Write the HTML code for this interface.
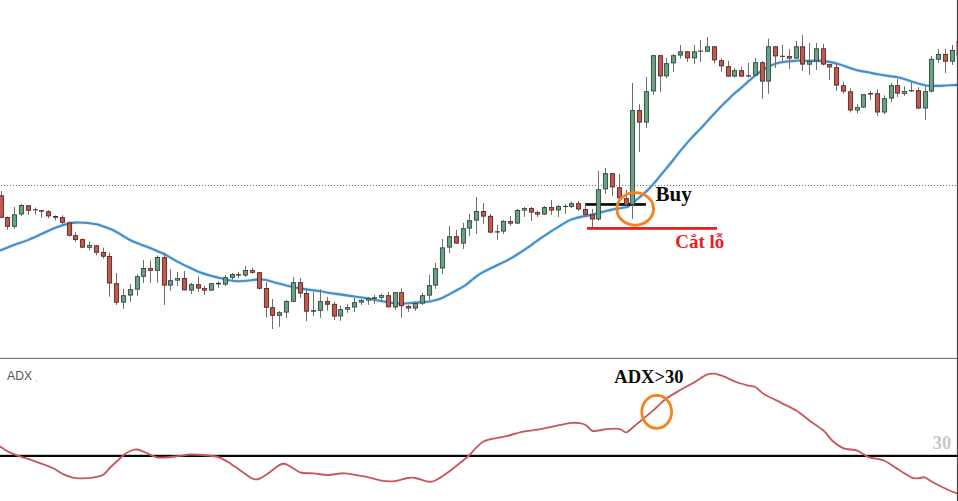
<!DOCTYPE html>
<html><head><meta charset="utf-8">
<style>
html,body{margin:0;padding:0;background:#fff;}
body{width:958px;height:501px;overflow:hidden;position:relative;font-family:"Liberation Sans",sans-serif;}
svg{position:absolute;left:0;top:0;display:block;}
text{font-family:"Liberation Serif",serif;font-weight:bold;}
.sans{font-family:"Liberation Sans",sans-serif;font-weight:normal;}
</style></head><body>
<svg width="958" height="501" viewBox="0 0 958 501">
<rect x="0" y="0" width="958" height="501" fill="#ffffff"/>
<!-- dotted price line -->
<line x1="1" x2="956" y1="185.5" y2="185.5" stroke="#5f7975" stroke-width="1.1" stroke-dasharray="1.1 1.9"/>
<!-- moving average -->
<path d="M-2,251 C-1.43,250.82 -1.27,250.90 1.4,249.9 C4.07,248.90 9.58,246.63 14,245 C18.42,243.37 23.23,241.97 27.9,240.1 C32.57,238.23 37.33,235.90 42,233.8 C46.67,231.70 51.25,229.25 55.9,227.5 C60.55,225.75 66.55,224.12 69.9,223.3 C73.25,222.48 73.68,222.70 76,222.6 C78.32,222.50 81.47,222.60 83.8,222.7 C86.13,222.80 87.67,222.88 90,223.2 C92.33,223.52 95.30,223.97 97.8,224.6 C100.30,225.23 102.67,226.18 105,227 C107.33,227.82 109.30,228.33 111.8,229.5 C114.30,230.67 116.97,232.25 120,234 C123.03,235.75 126.67,238.30 130,240 C133.33,241.70 136.67,242.87 140,244.2 C143.33,245.53 146.02,246.37 150,248 C153.98,249.63 160.23,252.25 163.9,254 C167.57,255.75 169.33,257.02 172,258.5 C174.67,259.98 176.90,261.35 179.9,262.9 C182.90,264.45 186.68,266.23 190,267.8 C193.32,269.37 196.47,271.00 199.8,272.3 C203.13,273.60 206.67,274.67 210,275.6 C213.33,276.53 216.57,277.13 219.8,277.9 C223.03,278.67 226.37,279.65 229.4,280.2 C232.43,280.75 235.07,281.10 238,281.2 C240.93,281.30 244.00,281.07 247,280.8 C250.00,280.53 253.00,279.77 256,279.6 C259.00,279.43 262.02,279.35 265,279.8 C267.98,280.25 270.90,281.50 273.9,282.3 C276.90,283.10 280.00,283.85 283,284.6 C286.00,285.35 288.90,286.13 291.9,286.8 C294.90,287.47 298.02,288.08 301,288.6 C303.98,289.12 306.53,289.47 309.8,289.9 C313.07,290.33 317.23,290.68 320.6,291.2 C323.97,291.72 326.77,292.47 330,293 C333.23,293.53 336.67,293.92 340,294.4 C343.33,294.88 346.67,295.42 350,295.9 C353.33,296.38 356.67,296.80 360,297.3 C363.33,297.80 367.00,298.38 370,298.9 C373.00,299.42 375.35,299.90 378,300.4 C380.65,300.90 383.40,301.47 385.9,301.9 C388.40,302.33 390.65,302.73 393,303 C395.35,303.27 397.50,303.47 400,303.5 C402.50,303.53 405.37,303.35 408,303.2 C410.63,303.05 413.30,302.77 415.8,302.6 C418.30,302.43 420.67,302.38 423,302.2 C425.33,302.02 427.33,301.93 429.8,301.5 C432.27,301.07 435.43,300.35 437.8,299.6 C440.17,298.85 441.97,297.95 444,297 C446.03,296.05 447.67,295.15 450,293.9 C452.33,292.65 455.33,291.02 458,289.5 C460.67,287.98 463.50,286.55 466,284.8 C468.50,283.05 470.67,280.83 473,279 C475.33,277.17 477.50,275.37 480,273.8 C482.50,272.23 485.35,270.93 488,269.6 C490.65,268.27 493.40,267.00 495.9,265.8 C498.40,264.60 500.67,263.55 503,262.4 C505.33,261.25 507.40,260.30 509.9,258.9 C512.40,257.50 515.35,255.67 518,254 C520.65,252.33 523.30,250.60 525.8,248.9 C528.30,247.20 530.67,245.47 533,243.8 C535.33,242.13 537.63,240.40 539.8,238.9 C541.97,237.40 544.00,236.13 546,234.8 C548.00,233.47 549.47,232.40 551.8,230.9 C554.13,229.40 557.80,227.15 560,225.8 C562.20,224.45 563.33,223.75 565,222.8 C566.67,221.85 568.33,220.83 570,220.1 C571.67,219.37 573.33,218.90 575,218.4 C576.67,217.90 577.50,217.65 580,217.1 C582.50,216.55 587.00,215.75 590,215.1 C593.00,214.45 595.35,213.88 598,213.2 C600.65,212.52 603.57,211.60 605.9,211 C608.23,210.40 610.00,210.00 612,209.6 C614.00,209.20 616.07,208.90 617.9,208.6 C619.73,208.30 621.35,208.12 623,207.8 C624.65,207.48 626.63,207.22 627.8,206.7 C628.97,206.18 629.13,205.37 630,204.7 C630.87,204.03 631.70,203.68 633,202.7 C634.30,201.72 635.97,200.35 637.8,198.8 C639.63,197.25 642.00,195.22 644,193.4 C646.00,191.58 647.80,189.97 649.8,187.9 C651.80,185.83 654.00,183.33 656,181 C658.00,178.67 659.47,176.73 661.8,173.9 C664.13,171.07 667.50,167.08 670,164 C672.50,160.92 674.52,158.25 676.8,155.4 C679.08,152.55 681.20,149.87 683.7,146.9 C686.20,143.93 689.12,140.52 691.8,137.6 C694.48,134.68 697.17,132.18 699.8,129.4 C702.43,126.62 704.27,124.50 707.6,120.9 C710.93,117.30 716.73,111.02 719.8,107.8 C722.87,104.58 723.67,103.90 726,101.6 C728.33,99.30 731.47,96.12 733.8,94 C736.13,91.88 737.30,91.25 740,88.9 C742.70,86.55 747.50,82.08 750,79.9 C752.50,77.72 753.33,77.13 755,75.8 C756.67,74.47 758.33,73.08 760,71.9 C761.67,70.72 763.33,69.70 765,68.7 C766.67,67.70 768.33,66.70 770,65.9 C771.67,65.10 773.33,64.47 775,63.9 C776.67,63.33 777.50,62.93 780,62.5 C782.50,62.07 786.67,61.63 790,61.3 C793.33,60.97 796.67,60.57 800,60.5 C803.33,60.43 806.67,60.83 810,60.9 C813.33,60.97 816.67,60.73 820,60.9 C823.33,61.07 826.67,61.30 830,61.9 C833.33,62.50 837.00,63.60 840,64.5 C843.00,65.40 845.00,66.32 848,67.3 C851.00,68.28 854.67,69.57 858,70.4 C861.33,71.23 864.67,71.65 868,72.3 C871.33,72.95 874.67,73.70 878,74.3 C881.33,74.90 884.67,75.40 888,75.9 C891.33,76.40 894.67,76.57 898,77.3 C901.33,78.03 904.67,79.27 908,80.3 C911.33,81.33 915.00,82.63 918,83.5 C921.00,84.37 923.33,85.10 926,85.5 C928.67,85.90 930.67,85.90 934,85.9 C937.33,85.90 942.00,85.67 946,85.5 C950.00,85.33 955.33,85.03 958,84.9 C960.67,84.77 961.33,84.73 962,84.7" fill="none" stroke="#b5dbf2" stroke-width="3.6" stroke-linejoin="round" stroke-linecap="round" opacity="0.55"/>
<path d="M-2,251 C-1.43,250.82 -1.27,250.90 1.4,249.9 C4.07,248.90 9.58,246.63 14,245 C18.42,243.37 23.23,241.97 27.9,240.1 C32.57,238.23 37.33,235.90 42,233.8 C46.67,231.70 51.25,229.25 55.9,227.5 C60.55,225.75 66.55,224.12 69.9,223.3 C73.25,222.48 73.68,222.70 76,222.6 C78.32,222.50 81.47,222.60 83.8,222.7 C86.13,222.80 87.67,222.88 90,223.2 C92.33,223.52 95.30,223.97 97.8,224.6 C100.30,225.23 102.67,226.18 105,227 C107.33,227.82 109.30,228.33 111.8,229.5 C114.30,230.67 116.97,232.25 120,234 C123.03,235.75 126.67,238.30 130,240 C133.33,241.70 136.67,242.87 140,244.2 C143.33,245.53 146.02,246.37 150,248 C153.98,249.63 160.23,252.25 163.9,254 C167.57,255.75 169.33,257.02 172,258.5 C174.67,259.98 176.90,261.35 179.9,262.9 C182.90,264.45 186.68,266.23 190,267.8 C193.32,269.37 196.47,271.00 199.8,272.3 C203.13,273.60 206.67,274.67 210,275.6 C213.33,276.53 216.57,277.13 219.8,277.9 C223.03,278.67 226.37,279.65 229.4,280.2 C232.43,280.75 235.07,281.10 238,281.2 C240.93,281.30 244.00,281.07 247,280.8 C250.00,280.53 253.00,279.77 256,279.6 C259.00,279.43 262.02,279.35 265,279.8 C267.98,280.25 270.90,281.50 273.9,282.3 C276.90,283.10 280.00,283.85 283,284.6 C286.00,285.35 288.90,286.13 291.9,286.8 C294.90,287.47 298.02,288.08 301,288.6 C303.98,289.12 306.53,289.47 309.8,289.9 C313.07,290.33 317.23,290.68 320.6,291.2 C323.97,291.72 326.77,292.47 330,293 C333.23,293.53 336.67,293.92 340,294.4 C343.33,294.88 346.67,295.42 350,295.9 C353.33,296.38 356.67,296.80 360,297.3 C363.33,297.80 367.00,298.38 370,298.9 C373.00,299.42 375.35,299.90 378,300.4 C380.65,300.90 383.40,301.47 385.9,301.9 C388.40,302.33 390.65,302.73 393,303 C395.35,303.27 397.50,303.47 400,303.5 C402.50,303.53 405.37,303.35 408,303.2 C410.63,303.05 413.30,302.77 415.8,302.6 C418.30,302.43 420.67,302.38 423,302.2 C425.33,302.02 427.33,301.93 429.8,301.5 C432.27,301.07 435.43,300.35 437.8,299.6 C440.17,298.85 441.97,297.95 444,297 C446.03,296.05 447.67,295.15 450,293.9 C452.33,292.65 455.33,291.02 458,289.5 C460.67,287.98 463.50,286.55 466,284.8 C468.50,283.05 470.67,280.83 473,279 C475.33,277.17 477.50,275.37 480,273.8 C482.50,272.23 485.35,270.93 488,269.6 C490.65,268.27 493.40,267.00 495.9,265.8 C498.40,264.60 500.67,263.55 503,262.4 C505.33,261.25 507.40,260.30 509.9,258.9 C512.40,257.50 515.35,255.67 518,254 C520.65,252.33 523.30,250.60 525.8,248.9 C528.30,247.20 530.67,245.47 533,243.8 C535.33,242.13 537.63,240.40 539.8,238.9 C541.97,237.40 544.00,236.13 546,234.8 C548.00,233.47 549.47,232.40 551.8,230.9 C554.13,229.40 557.80,227.15 560,225.8 C562.20,224.45 563.33,223.75 565,222.8 C566.67,221.85 568.33,220.83 570,220.1 C571.67,219.37 573.33,218.90 575,218.4 C576.67,217.90 577.50,217.65 580,217.1 C582.50,216.55 587.00,215.75 590,215.1 C593.00,214.45 595.35,213.88 598,213.2 C600.65,212.52 603.57,211.60 605.9,211 C608.23,210.40 610.00,210.00 612,209.6 C614.00,209.20 616.07,208.90 617.9,208.6 C619.73,208.30 621.35,208.12 623,207.8 C624.65,207.48 626.63,207.22 627.8,206.7 C628.97,206.18 629.13,205.37 630,204.7 C630.87,204.03 631.70,203.68 633,202.7 C634.30,201.72 635.97,200.35 637.8,198.8 C639.63,197.25 642.00,195.22 644,193.4 C646.00,191.58 647.80,189.97 649.8,187.9 C651.80,185.83 654.00,183.33 656,181 C658.00,178.67 659.47,176.73 661.8,173.9 C664.13,171.07 667.50,167.08 670,164 C672.50,160.92 674.52,158.25 676.8,155.4 C679.08,152.55 681.20,149.87 683.7,146.9 C686.20,143.93 689.12,140.52 691.8,137.6 C694.48,134.68 697.17,132.18 699.8,129.4 C702.43,126.62 704.27,124.50 707.6,120.9 C710.93,117.30 716.73,111.02 719.8,107.8 C722.87,104.58 723.67,103.90 726,101.6 C728.33,99.30 731.47,96.12 733.8,94 C736.13,91.88 737.30,91.25 740,88.9 C742.70,86.55 747.50,82.08 750,79.9 C752.50,77.72 753.33,77.13 755,75.8 C756.67,74.47 758.33,73.08 760,71.9 C761.67,70.72 763.33,69.70 765,68.7 C766.67,67.70 768.33,66.70 770,65.9 C771.67,65.10 773.33,64.47 775,63.9 C776.67,63.33 777.50,62.93 780,62.5 C782.50,62.07 786.67,61.63 790,61.3 C793.33,60.97 796.67,60.57 800,60.5 C803.33,60.43 806.67,60.83 810,60.9 C813.33,60.97 816.67,60.73 820,60.9 C823.33,61.07 826.67,61.30 830,61.9 C833.33,62.50 837.00,63.60 840,64.5 C843.00,65.40 845.00,66.32 848,67.3 C851.00,68.28 854.67,69.57 858,70.4 C861.33,71.23 864.67,71.65 868,72.3 C871.33,72.95 874.67,73.70 878,74.3 C881.33,74.90 884.67,75.40 888,75.9 C891.33,76.40 894.67,76.57 898,77.3 C901.33,78.03 904.67,79.27 908,80.3 C911.33,81.33 915.00,82.63 918,83.5 C921.00,84.37 923.33,85.10 926,85.5 C928.67,85.90 930.67,85.90 934,85.9 C937.33,85.90 942.00,85.67 946,85.5 C950.00,85.33 955.33,85.03 958,84.9 C960.67,84.77 961.33,84.73 962,84.7" fill="none" stroke="#468ec8" stroke-width="2.1" stroke-linejoin="round" stroke-linecap="round"/>
<rect x="585.1" y="203.1" width="60.8" height="2.7" fill="#0a0a0a"/>
<!-- candles -->
<line x1="1.5" x2="1.5" y1="191.0" y2="218.0" stroke="#6e6e6e" stroke-width="1"/>
<rect x="-0.6000000000000001" y="195.8" width="4.2" height="21.5" fill="#be5b50" stroke="#5a2622" stroke-width="0.9"/>
<line x1="7.5" x2="7.5" y1="216.5" y2="229.7" stroke="#6e6e6e" stroke-width="1"/>
<rect x="5.4" y="217.6" width="4.2" height="8.7" fill="#be5b50" stroke="#5a2622" stroke-width="0.9"/>
<line x1="14.5" x2="14.5" y1="207.1" y2="228.9" stroke="#6e6e6e" stroke-width="1"/>
<rect x="12.4" y="214.8" width="4.2" height="11.5" fill="#6d9f86" stroke="#274a3a" stroke-width="0.9"/>
<line x1="21.5" x2="21.5" y1="204.0" y2="216.3" stroke="#6e6e6e" stroke-width="1"/>
<rect x="19.4" y="205.5" width="4.2" height="8.5" fill="#6d9f86" stroke="#274a3a" stroke-width="0.9"/>
<line x1="28.5" x2="28.5" y1="205.0" y2="215.0" stroke="#6e6e6e" stroke-width="1"/>
<rect x="26.4" y="205.8" width="4.2" height="4.5" fill="#be5b50" stroke="#5a2622" stroke-width="0.9"/>
<line x1="35.5" x2="35.5" y1="207.4" y2="214.4" stroke="#6e6e6e" stroke-width="1"/>
<rect x="33.0" y="209.3" width="5" height="1.0" fill="#3b2a2a"/>
<line x1="41.5" x2="41.5" y1="210.0" y2="217.7" stroke="#6e6e6e" stroke-width="1"/>
<rect x="39.0" y="210.2" width="5" height="1.4" fill="#3b2a2a"/>
<line x1="48.5" x2="48.5" y1="210.2" y2="218.3" stroke="#6e6e6e" stroke-width="1"/>
<rect x="46.4" y="211.7" width="4.2" height="4.2" fill="#be5b50" stroke="#5a2622" stroke-width="0.9"/>
<line x1="55.5" x2="55.5" y1="215.5" y2="220.5" stroke="#6e6e6e" stroke-width="1"/>
<rect x="53.0" y="216.0" width="5" height="1.7" fill="#3b2a2a"/>
<line x1="62.5" x2="62.5" y1="215.2" y2="224.7" stroke="#6e6e6e" stroke-width="1"/>
<rect x="60.4" y="217.6" width="4.2" height="4.7" fill="#be5b50" stroke="#5a2622" stroke-width="0.9"/>
<line x1="69.5" x2="69.5" y1="221.4" y2="236.7" stroke="#6e6e6e" stroke-width="1"/>
<rect x="67.4" y="222.9" width="4.2" height="12.3" fill="#be5b50" stroke="#5a2622" stroke-width="0.9"/>
<line x1="75.5" x2="75.5" y1="232.2" y2="242.0" stroke="#6e6e6e" stroke-width="1"/>
<rect x="73.4" y="235.7" width="4.2" height="3.7" fill="#be5b50" stroke="#5a2622" stroke-width="0.9"/>
<line x1="82.5" x2="82.5" y1="238.5" y2="248.2" stroke="#6e6e6e" stroke-width="1"/>
<rect x="80.4" y="239.6" width="4.2" height="7.6" fill="#be5b50" stroke="#5a2622" stroke-width="0.9"/>
<line x1="89.5" x2="89.5" y1="241.5" y2="250.4" stroke="#6e6e6e" stroke-width="1"/>
<rect x="87.3" y="245.4" width="4.4" height="2.2" fill="#6d9f86" stroke="#274a3a" stroke-width="0.75"/>
<line x1="96.5" x2="96.5" y1="245.0" y2="255.4" stroke="#6e6e6e" stroke-width="1"/>
<rect x="94.4" y="245.8" width="4.2" height="6.4" fill="#be5b50" stroke="#5a2622" stroke-width="0.9"/>
<line x1="103.5" x2="103.5" y1="247.6" y2="258.5" stroke="#6e6e6e" stroke-width="1"/>
<rect x="101.4" y="252.5" width="4.2" height="3.7" fill="#be5b50" stroke="#5a2622" stroke-width="0.9"/>
<line x1="109.5" x2="109.5" y1="252.6" y2="296.8" stroke="#6e6e6e" stroke-width="1"/>
<rect x="107.4" y="256.4" width="4.2" height="26.6" fill="#be5b50" stroke="#5a2622" stroke-width="0.9"/>
<line x1="116.5" x2="116.5" y1="273.0" y2="304.9" stroke="#6e6e6e" stroke-width="1"/>
<rect x="114.4" y="283.7" width="4.2" height="18.5" fill="#be5b50" stroke="#5a2622" stroke-width="0.9"/>
<line x1="123.5" x2="123.5" y1="288.9" y2="308.8" stroke="#6e6e6e" stroke-width="1"/>
<rect x="121.4" y="295.7" width="4.2" height="6.4" fill="#6d9f86" stroke="#274a3a" stroke-width="0.9"/>
<line x1="130.5" x2="130.5" y1="283.9" y2="301.9" stroke="#6e6e6e" stroke-width="1"/>
<rect x="128.4" y="289.7" width="4.2" height="5.4" fill="#6d9f86" stroke="#274a3a" stroke-width="0.9"/>
<line x1="137.5" x2="137.5" y1="274.3" y2="295.9" stroke="#6e6e6e" stroke-width="1"/>
<rect x="135.4" y="276.7" width="4.2" height="12.4" fill="#6d9f86" stroke="#274a3a" stroke-width="0.9"/>
<line x1="143.5" x2="143.5" y1="259.9" y2="282.9" stroke="#6e6e6e" stroke-width="1"/>
<rect x="141.4" y="268.5" width="4.2" height="7.8" fill="#6d9f86" stroke="#274a3a" stroke-width="0.9"/>
<line x1="150.5" x2="150.5" y1="260.5" y2="282.9" stroke="#6e6e6e" stroke-width="1"/>
<rect x="148.3" y="268.4" width="4.4" height="2.0" fill="#be5b50" stroke="#5a2622" stroke-width="0.75"/>
<line x1="157.5" x2="157.5" y1="255.5" y2="282.9" stroke="#6e6e6e" stroke-width="1"/>
<rect x="155.4" y="257.5" width="4.2" height="12.8" fill="#6d9f86" stroke="#274a3a" stroke-width="0.9"/>
<line x1="164.5" x2="164.5" y1="252.6" y2="304.9" stroke="#6e6e6e" stroke-width="1"/>
<rect x="162.4" y="257.7" width="4.2" height="27.4" fill="#be5b50" stroke="#5a2622" stroke-width="0.9"/>
<line x1="170.5" x2="170.5" y1="268.9" y2="290.9" stroke="#6e6e6e" stroke-width="1"/>
<rect x="168.4" y="280.7" width="4.2" height="4.4" fill="#6d9f86" stroke="#274a3a" stroke-width="0.9"/>
<line x1="177.5" x2="177.5" y1="271.9" y2="285.9" stroke="#6e6e6e" stroke-width="1"/>
<rect x="175.3" y="278.6" width="4.4" height="1.6" fill="#6d9f86" stroke="#274a3a" stroke-width="0.75"/>
<line x1="184.5" x2="184.5" y1="270.9" y2="290.5" stroke="#6e6e6e" stroke-width="1"/>
<rect x="182.4" y="278.5" width="4.2" height="11.4" fill="#be5b50" stroke="#5a2622" stroke-width="0.9"/>
<line x1="191.5" x2="191.5" y1="282.9" y2="293.9" stroke="#6e6e6e" stroke-width="1"/>
<rect x="189.4" y="284.7" width="4.2" height="5.4" fill="#6d9f86" stroke="#274a3a" stroke-width="0.9"/>
<line x1="198.5" x2="198.5" y1="276.3" y2="291.9" stroke="#6e6e6e" stroke-width="1"/>
<rect x="196.4" y="284.7" width="4.2" height="3.4" fill="#be5b50" stroke="#5a2622" stroke-width="0.9"/>
<line x1="204.5" x2="204.5" y1="285.9" y2="294.9" stroke="#6e6e6e" stroke-width="1"/>
<rect x="202.3" y="288.6" width="4.4" height="1.6" fill="#be5b50" stroke="#5a2622" stroke-width="0.75"/>
<line x1="211.5" x2="211.5" y1="283.0" y2="291.0" stroke="#6e6e6e" stroke-width="1"/>
<rect x="209.4" y="283.7" width="4.2" height="6.4" fill="#6d9f86" stroke="#274a3a" stroke-width="0.9"/>
<line x1="218.5" x2="218.5" y1="281.5" y2="287.9" stroke="#6e6e6e" stroke-width="1"/>
<rect x="216.0" y="282.9" width="5" height="1.4" fill="#3b2a2a"/>
<line x1="225.5" x2="225.5" y1="275.0" y2="285.9" stroke="#6e6e6e" stroke-width="1"/>
<rect x="223.4" y="277.7" width="4.2" height="6.4" fill="#6d9f86" stroke="#274a3a" stroke-width="0.9"/>
<line x1="232.5" x2="232.5" y1="273.0" y2="279.6" stroke="#6e6e6e" stroke-width="1"/>
<rect x="230.4" y="274.6" width="4.2" height="2.8" fill="#6d9f86" stroke="#274a3a" stroke-width="0.9"/>
<line x1="238.5" x2="238.5" y1="271.9" y2="277.8" stroke="#6e6e6e" stroke-width="1"/>
<rect x="236.0" y="274.2" width="5" height="1.3" fill="#3b2a2a"/>
<line x1="245.5" x2="245.5" y1="265.8" y2="276.9" stroke="#6e6e6e" stroke-width="1"/>
<rect x="243.4" y="270.5" width="4.2" height="4.6" fill="#6d9f86" stroke="#274a3a" stroke-width="0.9"/>
<line x1="252.5" x2="252.5" y1="268.0" y2="273.7" stroke="#6e6e6e" stroke-width="1"/>
<rect x="250.3" y="270.6" width="4.4" height="1.9" fill="#be5b50" stroke="#5a2622" stroke-width="0.75"/>
<line x1="259.5" x2="259.5" y1="272.0" y2="289.5" stroke="#6e6e6e" stroke-width="1"/>
<rect x="257.4" y="272.7" width="4.2" height="15.5" fill="#be5b50" stroke="#5a2622" stroke-width="0.9"/>
<line x1="266.5" x2="266.5" y1="282.3" y2="317.4" stroke="#6e6e6e" stroke-width="1"/>
<rect x="264.4" y="288.5" width="4.2" height="18.8" fill="#be5b50" stroke="#5a2622" stroke-width="0.9"/>
<line x1="272.5" x2="272.5" y1="298.9" y2="329.0" stroke="#6e6e6e" stroke-width="1"/>
<rect x="270.4" y="307.7" width="4.2" height="7.6" fill="#be5b50" stroke="#5a2622" stroke-width="0.9"/>
<line x1="279.5" x2="279.5" y1="311.1" y2="326.9" stroke="#6e6e6e" stroke-width="1"/>
<rect x="277.4" y="312.7" width="4.2" height="2.6" fill="#6d9f86" stroke="#274a3a" stroke-width="0.9"/>
<line x1="286.5" x2="286.5" y1="299.9" y2="317.9" stroke="#6e6e6e" stroke-width="1"/>
<rect x="284.4" y="301.6" width="4.2" height="10.5" fill="#6d9f86" stroke="#274a3a" stroke-width="0.9"/>
<line x1="293.5" x2="293.5" y1="276.9" y2="302.0" stroke="#6e6e6e" stroke-width="1"/>
<rect x="291.4" y="282.7" width="4.2" height="18.6" fill="#6d9f86" stroke="#274a3a" stroke-width="0.9"/>
<line x1="300.5" x2="300.5" y1="277.8" y2="297.6" stroke="#6e6e6e" stroke-width="1"/>
<rect x="298.4" y="282.7" width="4.2" height="10.4" fill="#be5b50" stroke="#5a2622" stroke-width="0.9"/>
<line x1="306.5" x2="306.5" y1="289.9" y2="321.0" stroke="#6e6e6e" stroke-width="1"/>
<rect x="304.4" y="293.5" width="4.2" height="17.7" fill="#be5b50" stroke="#5a2622" stroke-width="0.9"/>
<line x1="313.5" x2="313.5" y1="292.2" y2="316.1" stroke="#6e6e6e" stroke-width="1"/>
<rect x="311.0" y="310.2" width="5" height="1.4" fill="#3b2a2a"/>
<line x1="320.5" x2="320.5" y1="289.2" y2="317.9" stroke="#6e6e6e" stroke-width="1"/>
<rect x="318.4" y="301.6" width="4.2" height="8.7" fill="#6d9f86" stroke="#274a3a" stroke-width="0.9"/>
<line x1="327.5" x2="327.5" y1="297.1" y2="310.7" stroke="#6e6e6e" stroke-width="1"/>
<rect x="325.4" y="301.6" width="4.2" height="2.6" fill="#be5b50" stroke="#5a2622" stroke-width="0.9"/>
<line x1="334.5" x2="334.5" y1="302.2" y2="320.0" stroke="#6e6e6e" stroke-width="1"/>
<rect x="332.4" y="304.3" width="4.2" height="11.8" fill="#be5b50" stroke="#5a2622" stroke-width="0.9"/>
<line x1="340.5" x2="340.5" y1="305.4" y2="320.8" stroke="#6e6e6e" stroke-width="1"/>
<rect x="338.4" y="309.6" width="4.2" height="6.4" fill="#6d9f86" stroke="#274a3a" stroke-width="0.9"/>
<line x1="347.5" x2="347.5" y1="303.9" y2="312.8" stroke="#6e6e6e" stroke-width="1"/>
<rect x="345.3" y="307.5" width="4.4" height="1.8" fill="#6d9f86" stroke="#274a3a" stroke-width="0.75"/>
<line x1="354.5" x2="354.5" y1="297.9" y2="311.8" stroke="#6e6e6e" stroke-width="1"/>
<rect x="352.4" y="302.7" width="4.2" height="4.3" fill="#6d9f86" stroke="#274a3a" stroke-width="0.9"/>
<line x1="361.5" x2="361.5" y1="299.0" y2="304.9" stroke="#6e6e6e" stroke-width="1"/>
<rect x="359.3" y="300.4" width="4.4" height="1.8" fill="#6d9f86" stroke="#274a3a" stroke-width="0.75"/>
<line x1="368.5" x2="368.5" y1="296.9" y2="304.9" stroke="#6e6e6e" stroke-width="1"/>
<rect x="366.3" y="298.4" width="4.4" height="1.8" fill="#6d9f86" stroke="#274a3a" stroke-width="0.75"/>
<line x1="374.5" x2="374.5" y1="294.9" y2="303.9" stroke="#6e6e6e" stroke-width="1"/>
<rect x="372.0" y="297.3" width="5" height="1.4" fill="#3b2a2a"/>
<line x1="381.5" x2="381.5" y1="293.5" y2="301.5" stroke="#6e6e6e" stroke-width="1"/>
<rect x="379.3" y="295.4" width="4.4" height="2.0" fill="#6d9f86" stroke="#274a3a" stroke-width="0.75"/>
<line x1="388.5" x2="388.5" y1="291.9" y2="307.5" stroke="#6e6e6e" stroke-width="1"/>
<rect x="386.4" y="295.7" width="4.2" height="11.1" fill="#be5b50" stroke="#5a2622" stroke-width="0.9"/>
<line x1="395.5" x2="395.5" y1="292.0" y2="309.8" stroke="#6e6e6e" stroke-width="1"/>
<rect x="393.4" y="292.7" width="4.2" height="14.3" fill="#6d9f86" stroke="#274a3a" stroke-width="0.9"/>
<line x1="401.5" x2="401.5" y1="288.5" y2="317.8" stroke="#6e6e6e" stroke-width="1"/>
<rect x="399.4" y="292.7" width="4.2" height="13.1" fill="#be5b50" stroke="#5a2622" stroke-width="0.9"/>
<line x1="408.5" x2="408.5" y1="305.0" y2="311.8" stroke="#6e6e6e" stroke-width="1"/>
<rect x="406.3" y="306.3" width="4.4" height="1.8" fill="#be5b50" stroke="#5a2622" stroke-width="0.75"/>
<line x1="415.5" x2="415.5" y1="301.5" y2="310.8" stroke="#6e6e6e" stroke-width="1"/>
<rect x="413.4" y="303.5" width="4.2" height="4.5" fill="#6d9f86" stroke="#274a3a" stroke-width="0.9"/>
<line x1="422.5" x2="422.5" y1="292.9" y2="304.9" stroke="#6e6e6e" stroke-width="1"/>
<rect x="420.4" y="295.7" width="4.2" height="7.4" fill="#6d9f86" stroke="#274a3a" stroke-width="0.9"/>
<line x1="429.5" x2="429.5" y1="274.9" y2="299.9" stroke="#6e6e6e" stroke-width="1"/>
<rect x="427.4" y="285.7" width="4.2" height="9.4" fill="#6d9f86" stroke="#274a3a" stroke-width="0.9"/>
<line x1="435.5" x2="435.5" y1="262.9" y2="288.9" stroke="#6e6e6e" stroke-width="1"/>
<rect x="433.4" y="268.7" width="4.2" height="16.4" fill="#6d9f86" stroke="#274a3a" stroke-width="0.9"/>
<line x1="442.5" x2="442.5" y1="239.0" y2="273.8" stroke="#6e6e6e" stroke-width="1"/>
<rect x="440.4" y="247.9" width="4.2" height="20.1" fill="#6d9f86" stroke="#274a3a" stroke-width="0.9"/>
<line x1="449.5" x2="449.5" y1="225.9" y2="252.9" stroke="#6e6e6e" stroke-width="1"/>
<rect x="447.4" y="236.7" width="4.2" height="10.4" fill="#6d9f86" stroke="#274a3a" stroke-width="0.9"/>
<line x1="456.5" x2="456.5" y1="229.9" y2="244.0" stroke="#6e6e6e" stroke-width="1"/>
<rect x="454.4" y="236.7" width="4.2" height="6.4" fill="#be5b50" stroke="#5a2622" stroke-width="0.9"/>
<line x1="463.5" x2="463.5" y1="222.9" y2="248.9" stroke="#6e6e6e" stroke-width="1"/>
<rect x="461.4" y="228.7" width="4.2" height="14.4" fill="#6d9f86" stroke="#274a3a" stroke-width="0.9"/>
<line x1="469.5" x2="469.5" y1="213.9" y2="235.9" stroke="#6e6e6e" stroke-width="1"/>
<rect x="467.4" y="220.7" width="4.2" height="7.4" fill="#6d9f86" stroke="#274a3a" stroke-width="0.9"/>
<line x1="476.5" x2="476.5" y1="197.0" y2="233.9" stroke="#6e6e6e" stroke-width="1"/>
<rect x="474.4" y="211.5" width="4.2" height="8.6" fill="#6d9f86" stroke="#274a3a" stroke-width="0.9"/>
<line x1="483.5" x2="483.5" y1="203.0" y2="223.9" stroke="#6e6e6e" stroke-width="1"/>
<rect x="481.4" y="211.5" width="4.2" height="4.6" fill="#be5b50" stroke="#5a2622" stroke-width="0.9"/>
<line x1="490.5" x2="490.5" y1="213.9" y2="233.5" stroke="#6e6e6e" stroke-width="1"/>
<rect x="488.4" y="216.3" width="4.2" height="15.8" fill="#be5b50" stroke="#5a2622" stroke-width="0.9"/>
<line x1="497.5" x2="497.5" y1="224.9" y2="239.9" stroke="#6e6e6e" stroke-width="1"/>
<rect x="495.0" y="231.3" width="5" height="1.2" fill="#3b2a2a"/>
<line x1="503.5" x2="503.5" y1="219.9" y2="233.9" stroke="#6e6e6e" stroke-width="1"/>
<rect x="501.4" y="221.5" width="4.2" height="9.6" fill="#6d9f86" stroke="#274a3a" stroke-width="0.9"/>
<line x1="510.5" x2="510.5" y1="215.9" y2="225.9" stroke="#6e6e6e" stroke-width="1"/>
<rect x="508.3" y="221.4" width="4.4" height="1.8" fill="#be5b50" stroke="#5a2622" stroke-width="0.75"/>
<line x1="517.5" x2="517.5" y1="209.0" y2="224.0" stroke="#6e6e6e" stroke-width="1"/>
<rect x="515.4" y="210.5" width="4.2" height="12.6" fill="#6d9f86" stroke="#274a3a" stroke-width="0.9"/>
<line x1="524.5" x2="524.5" y1="207.0" y2="216.9" stroke="#6e6e6e" stroke-width="1"/>
<rect x="522.3" y="208.5" width="4.4" height="1.7" fill="#6d9f86" stroke="#274a3a" stroke-width="0.75"/>
<line x1="531.5" x2="531.5" y1="207.0" y2="220.9" stroke="#6e6e6e" stroke-width="1"/>
<rect x="529.4" y="208.6" width="4.2" height="3.5" fill="#be5b50" stroke="#5a2622" stroke-width="0.9"/>
<line x1="537.5" x2="537.5" y1="210.5" y2="216.9" stroke="#6e6e6e" stroke-width="1"/>
<rect x="535.3" y="212.4" width="4.4" height="1.8" fill="#be5b50" stroke="#5a2622" stroke-width="0.75"/>
<line x1="544.5" x2="544.5" y1="206.0" y2="215.0" stroke="#6e6e6e" stroke-width="1"/>
<rect x="542.4" y="207.6" width="4.2" height="6.5" fill="#6d9f86" stroke="#274a3a" stroke-width="0.9"/>
<line x1="551.5" x2="551.5" y1="200.0" y2="214.9" stroke="#6e6e6e" stroke-width="1"/>
<rect x="549.3" y="207.5" width="4.4" height="2.6" fill="#be5b50" stroke="#5a2622" stroke-width="0.75"/>
<line x1="558.5" x2="558.5" y1="205.0" y2="216.9" stroke="#6e6e6e" stroke-width="1"/>
<rect x="556.4" y="206.6" width="4.2" height="3.4" fill="#6d9f86" stroke="#274a3a" stroke-width="0.9"/>
<line x1="565.5" x2="565.5" y1="203.9" y2="214.0" stroke="#6e6e6e" stroke-width="1"/>
<rect x="563.0" y="205.9" width="5" height="1.0" fill="#3b2a2a"/>
<line x1="571.5" x2="571.5" y1="201.5" y2="208.0" stroke="#6e6e6e" stroke-width="1"/>
<rect x="569.4" y="203.7" width="4.2" height="2.8" fill="#6d9f86" stroke="#274a3a" stroke-width="0.9"/>
<line x1="578.5" x2="578.5" y1="200.9" y2="210.9" stroke="#6e6e6e" stroke-width="1"/>
<rect x="576.4" y="203.7" width="4.2" height="5.2" fill="#be5b50" stroke="#5a2622" stroke-width="0.9"/>
<line x1="585.5" x2="585.5" y1="204.0" y2="215.8" stroke="#6e6e6e" stroke-width="1"/>
<rect x="583.4" y="209.5" width="4.2" height="4.8" fill="#be5b50" stroke="#5a2622" stroke-width="0.9"/>
<line x1="592.5" x2="592.5" y1="208.9" y2="227.3" stroke="#6e6e6e" stroke-width="1"/>
<rect x="590.4" y="214.9" width="4.2" height="4.1" fill="#be5b50" stroke="#5a2622" stroke-width="0.9"/>
<line x1="598.5" x2="598.5" y1="170.9" y2="221.0" stroke="#6e6e6e" stroke-width="1"/>
<rect x="596.4" y="189.7" width="4.2" height="29.3" fill="#6d9f86" stroke="#274a3a" stroke-width="0.9"/>
<line x1="605.5" x2="605.5" y1="167.9" y2="193.9" stroke="#6e6e6e" stroke-width="1"/>
<rect x="603.4" y="173.7" width="4.2" height="15.2" fill="#6d9f86" stroke="#274a3a" stroke-width="0.9"/>
<line x1="612.5" x2="612.5" y1="173.0" y2="195.9" stroke="#6e6e6e" stroke-width="1"/>
<rect x="610.4" y="173.7" width="4.2" height="13.2" fill="#be5b50" stroke="#5a2622" stroke-width="0.9"/>
<line x1="619.5" x2="619.5" y1="173.9" y2="198.5" stroke="#6e6e6e" stroke-width="1"/>
<rect x="617.4" y="187.7" width="4.2" height="10.2" fill="#be5b50" stroke="#5a2622" stroke-width="0.9"/>
<line x1="626.5" x2="626.5" y1="189.9" y2="206.0" stroke="#6e6e6e" stroke-width="1"/>
<rect x="624.4" y="198.7" width="4.2" height="6.2" fill="#be5b50" stroke="#5a2622" stroke-width="0.9"/>
<line x1="632.5" x2="632.5" y1="82.9" y2="218.8" stroke="#6e6e6e" stroke-width="1"/>
<rect x="630.4" y="110.6" width="4.2" height="93.9" fill="#6d9f86" stroke="#274a3a" stroke-width="0.9"/>
<line x1="639.5" x2="639.5" y1="104.2" y2="152.0" stroke="#6e6e6e" stroke-width="1"/>
<rect x="637.4" y="110.6" width="4.2" height="11.5" fill="#be5b50" stroke="#5a2622" stroke-width="0.9"/>
<line x1="646.5" x2="646.5" y1="76.9" y2="128.0" stroke="#6e6e6e" stroke-width="1"/>
<rect x="644.4" y="91.7" width="4.2" height="30.4" fill="#6d9f86" stroke="#274a3a" stroke-width="0.9"/>
<line x1="653.5" x2="653.5" y1="55.0" y2="94.9" stroke="#6e6e6e" stroke-width="1"/>
<rect x="651.4" y="55.7" width="4.2" height="35.2" fill="#6d9f86" stroke="#274a3a" stroke-width="0.9"/>
<line x1="660.5" x2="660.5" y1="55.0" y2="91.9" stroke="#6e6e6e" stroke-width="1"/>
<rect x="658.4" y="55.7" width="4.2" height="20.2" fill="#be5b50" stroke="#5a2622" stroke-width="0.9"/>
<line x1="666.5" x2="666.5" y1="57.9" y2="78.3" stroke="#6e6e6e" stroke-width="1"/>
<rect x="664.4" y="63.7" width="4.2" height="12.2" fill="#6d9f86" stroke="#274a3a" stroke-width="0.9"/>
<line x1="673.5" x2="673.5" y1="54.0" y2="71.9" stroke="#6e6e6e" stroke-width="1"/>
<rect x="671.4" y="55.7" width="4.2" height="7.2" fill="#6d9f86" stroke="#274a3a" stroke-width="0.9"/>
<line x1="680.5" x2="680.5" y1="45.0" y2="58.5" stroke="#6e6e6e" stroke-width="1"/>
<rect x="678.4" y="51.8" width="4.2" height="3.3" fill="#6d9f86" stroke="#274a3a" stroke-width="0.9"/>
<line x1="687.5" x2="687.5" y1="51.0" y2="61.9" stroke="#6e6e6e" stroke-width="1"/>
<rect x="685.4" y="51.8" width="4.2" height="6.1" fill="#be5b50" stroke="#5a2622" stroke-width="0.9"/>
<line x1="694.5" x2="694.5" y1="45.0" y2="63.9" stroke="#6e6e6e" stroke-width="1"/>
<rect x="692.4" y="51.8" width="4.2" height="6.1" fill="#6d9f86" stroke="#274a3a" stroke-width="0.9"/>
<line x1="700.5" x2="700.5" y1="40.0" y2="61.9" stroke="#6e6e6e" stroke-width="1"/>
<rect x="698.0" y="50.6" width="5" height="1.0" fill="#3b2a2a"/>
<line x1="707.5" x2="707.5" y1="37.0" y2="52.0" stroke="#6e6e6e" stroke-width="1"/>
<rect x="705.4" y="46.8" width="4.2" height="4.4" fill="#6d9f86" stroke="#274a3a" stroke-width="0.9"/>
<line x1="714.5" x2="714.5" y1="46.0" y2="63.5" stroke="#6e6e6e" stroke-width="1"/>
<rect x="712.4" y="46.8" width="4.2" height="13.1" fill="#be5b50" stroke="#5a2622" stroke-width="0.9"/>
<line x1="721.5" x2="721.5" y1="58.3" y2="71.9" stroke="#6e6e6e" stroke-width="1"/>
<rect x="719.4" y="60.7" width="4.2" height="5.2" fill="#be5b50" stroke="#5a2622" stroke-width="0.9"/>
<line x1="728.5" x2="728.5" y1="60.9" y2="77.0" stroke="#6e6e6e" stroke-width="1"/>
<rect x="726.4" y="66.7" width="4.2" height="9.4" fill="#be5b50" stroke="#5a2622" stroke-width="0.9"/>
<line x1="734.5" x2="734.5" y1="68.0" y2="77.5" stroke="#6e6e6e" stroke-width="1"/>
<rect x="732.4" y="70.7" width="4.2" height="5.4" fill="#6d9f86" stroke="#274a3a" stroke-width="0.9"/>
<line x1="741.5" x2="741.5" y1="66.9" y2="77.0" stroke="#6e6e6e" stroke-width="1"/>
<rect x="739.4" y="70.7" width="4.2" height="5.4" fill="#be5b50" stroke="#5a2622" stroke-width="0.9"/>
<line x1="748.5" x2="748.5" y1="62.9" y2="77.5" stroke="#6e6e6e" stroke-width="1"/>
<rect x="746.0" y="75.3" width="5" height="1.2" fill="#3b2a2a"/>
<line x1="755.5" x2="755.5" y1="57.9" y2="76.0" stroke="#6e6e6e" stroke-width="1"/>
<rect x="753.4" y="62.7" width="4.2" height="12.4" fill="#6d9f86" stroke="#274a3a" stroke-width="0.9"/>
<line x1="762.5" x2="762.5" y1="61.0" y2="98.9" stroke="#6e6e6e" stroke-width="1"/>
<rect x="760.4" y="62.7" width="4.2" height="18.4" fill="#be5b50" stroke="#5a2622" stroke-width="0.9"/>
<line x1="768.5" x2="768.5" y1="38.6" y2="93.9" stroke="#6e6e6e" stroke-width="1"/>
<rect x="766.4" y="46.8" width="4.2" height="34.3" fill="#6d9f86" stroke="#274a3a" stroke-width="0.9"/>
<line x1="775.5" x2="775.5" y1="46.0" y2="67.9" stroke="#6e6e6e" stroke-width="1"/>
<rect x="773.4" y="46.8" width="4.2" height="9.1" fill="#be5b50" stroke="#5a2622" stroke-width="0.9"/>
<line x1="782.5" x2="782.5" y1="44.6" y2="62.9" stroke="#6e6e6e" stroke-width="1"/>
<rect x="780.0" y="55.8" width="5" height="1.0" fill="#3b2a2a"/>
<line x1="789.5" x2="789.5" y1="49.0" y2="68.9" stroke="#6e6e6e" stroke-width="1"/>
<rect x="787.3" y="56.4" width="4.4" height="1.8" fill="#be5b50" stroke="#5a2622" stroke-width="0.75"/>
<line x1="796.5" x2="796.5" y1="41.0" y2="59.0" stroke="#6e6e6e" stroke-width="1"/>
<rect x="794.4" y="46.8" width="4.2" height="11.3" fill="#6d9f86" stroke="#274a3a" stroke-width="0.9"/>
<line x1="802.5" x2="802.5" y1="35.0" y2="70.9" stroke="#6e6e6e" stroke-width="1"/>
<rect x="800.4" y="46.8" width="4.2" height="17.3" fill="#be5b50" stroke="#5a2622" stroke-width="0.9"/>
<line x1="809.5" x2="809.5" y1="43.0" y2="74.9" stroke="#6e6e6e" stroke-width="1"/>
<rect x="807.3" y="61.6" width="4.4" height="2.6" fill="#6d9f86" stroke="#274a3a" stroke-width="0.75"/>
<line x1="816.5" x2="816.5" y1="43.0" y2="69.9" stroke="#6e6e6e" stroke-width="1"/>
<rect x="814.4" y="48.8" width="4.2" height="12.1" fill="#6d9f86" stroke="#274a3a" stroke-width="0.9"/>
<line x1="823.5" x2="823.5" y1="44.0" y2="65.5" stroke="#6e6e6e" stroke-width="1"/>
<rect x="821.4" y="48.8" width="4.2" height="15.3" fill="#be5b50" stroke="#5a2622" stroke-width="0.9"/>
<line x1="829.5" x2="829.5" y1="64.0" y2="79.9" stroke="#6e6e6e" stroke-width="1"/>
<rect x="827.3" y="64.6" width="4.4" height="2.4" fill="#be5b50" stroke="#5a2622" stroke-width="0.75"/>
<line x1="836.5" x2="836.5" y1="63.9" y2="90.9" stroke="#6e6e6e" stroke-width="1"/>
<rect x="834.4" y="67.7" width="4.2" height="17.4" fill="#be5b50" stroke="#5a2622" stroke-width="0.9"/>
<line x1="843.5" x2="843.5" y1="82.0" y2="93.7" stroke="#6e6e6e" stroke-width="1"/>
<rect x="841.4" y="85.7" width="4.2" height="5.4" fill="#be5b50" stroke="#5a2622" stroke-width="0.9"/>
<line x1="850.5" x2="850.5" y1="88.3" y2="112.4" stroke="#6e6e6e" stroke-width="1"/>
<rect x="848.4" y="91.8" width="4.2" height="18.2" fill="#be5b50" stroke="#5a2622" stroke-width="0.9"/>
<line x1="857.5" x2="857.5" y1="104.3" y2="113.4" stroke="#6e6e6e" stroke-width="1"/>
<rect x="855.3" y="107.5" width="4.4" height="2.6" fill="#6d9f86" stroke="#274a3a" stroke-width="0.75"/>
<line x1="863.5" x2="863.5" y1="94.0" y2="108.0" stroke="#6e6e6e" stroke-width="1"/>
<rect x="861.4" y="94.7" width="4.2" height="12.3" fill="#6d9f86" stroke="#274a3a" stroke-width="0.9"/>
<line x1="870.5" x2="870.5" y1="90.9" y2="99.9" stroke="#6e6e6e" stroke-width="1"/>
<rect x="868.0" y="93.1" width="5" height="1.4" fill="#3b2a2a"/>
<line x1="877.5" x2="877.5" y1="89.3" y2="115.8" stroke="#6e6e6e" stroke-width="1"/>
<rect x="875.4" y="93.7" width="4.2" height="18.3" fill="#be5b50" stroke="#5a2622" stroke-width="0.9"/>
<line x1="884.5" x2="884.5" y1="95.3" y2="114.4" stroke="#6e6e6e" stroke-width="1"/>
<rect x="882.4" y="98.7" width="4.2" height="13.3" fill="#6d9f86" stroke="#274a3a" stroke-width="0.9"/>
<line x1="891.5" x2="891.5" y1="82.9" y2="101.9" stroke="#6e6e6e" stroke-width="1"/>
<rect x="889.4" y="85.7" width="4.2" height="12.4" fill="#6d9f86" stroke="#274a3a" stroke-width="0.9"/>
<line x1="897.5" x2="897.5" y1="78.9" y2="96.9" stroke="#6e6e6e" stroke-width="1"/>
<rect x="895.4" y="85.7" width="4.2" height="7.4" fill="#be5b50" stroke="#5a2622" stroke-width="0.9"/>
<line x1="904.5" x2="904.5" y1="86.3" y2="95.9" stroke="#6e6e6e" stroke-width="1"/>
<rect x="902.3" y="91.6" width="4.4" height="1.8" fill="#6d9f86" stroke="#274a3a" stroke-width="0.75"/>
<line x1="911.5" x2="911.5" y1="81.9" y2="91.5" stroke="#6e6e6e" stroke-width="1"/>
<rect x="909.0" y="90.1" width="5" height="1.2" fill="#3b2a2a"/>
<line x1="918.5" x2="918.5" y1="87.3" y2="109.4" stroke="#6e6e6e" stroke-width="1"/>
<rect x="916.4" y="90.7" width="4.2" height="17.3" fill="#be5b50" stroke="#5a2622" stroke-width="0.9"/>
<line x1="925.5" x2="925.5" y1="86.3" y2="119.8" stroke="#6e6e6e" stroke-width="1"/>
<rect x="923.4" y="91.7" width="4.2" height="16.3" fill="#6d9f86" stroke="#274a3a" stroke-width="0.9"/>
<line x1="931.5" x2="931.5" y1="55.9" y2="92.5" stroke="#6e6e6e" stroke-width="1"/>
<rect x="929.4" y="59.4" width="4.2" height="31.7" fill="#6d9f86" stroke="#274a3a" stroke-width="0.9"/>
<line x1="938.5" x2="938.5" y1="48.9" y2="62.9" stroke="#6e6e6e" stroke-width="1"/>
<rect x="936.4" y="54.4" width="4.2" height="4.8" fill="#6d9f86" stroke="#274a3a" stroke-width="0.9"/>
<line x1="945.5" x2="945.5" y1="48.9" y2="72.9" stroke="#6e6e6e" stroke-width="1"/>
<rect x="943.4" y="54.4" width="4.2" height="6.8" fill="#be5b50" stroke="#5a2622" stroke-width="0.9"/>
<line x1="952.5" x2="952.5" y1="45.0" y2="64.9" stroke="#6e6e6e" stroke-width="1"/>
<rect x="950.4" y="50.4" width="4.2" height="10.8" fill="#6d9f86" stroke="#274a3a" stroke-width="0.9"/>
<rect x="956.2" y="41" width="1" height="15" fill="#cf8880"/>
<!-- buy / stop lines -->
<rect x="587.0" y="227.0" width="130" height="2.8" fill="#ee1c25"/>
<ellipse cx="635.2" cy="208.9" rx="18.3" ry="16.3" fill="none" stroke="#f5821f" stroke-width="2.9"/>
<text x="655.6" y="201.4" font-size="21" fill="#0a0a0a">Buy</text>
<text x="675.2" y="247.8" font-size="19" fill="#ee1c25">Cắt lỗ</text>
<!-- ADX panel -->
<rect x="0" y="357.9" width="958" height="0.9" fill="#555"/>
<text class="sans" x="7" y="380.1" font-size="12.2" fill="#555">ADX</text>
<rect x="36" y="380.8" width="0.8" height="1" fill="#666"/>
<rect x="0" y="454.8" width="958" height="2.2" fill="#050505"/>
<path d="M-2,445 C-1.73,445.20 -1.27,445.66 0,446.5 C1.27,447.34 4.83,449.99 7.5,451.3 C10.17,452.61 16.33,454.97 20,456.3 C23.67,457.63 30.65,459.74 35,461.3 C39.35,462.86 48.92,466.33 52.6,468 C56.28,469.67 59.93,472.52 62.6,473.8 C65.27,475.08 69.92,477.00 72.6,477.6 C75.28,478.20 80.02,478.30 82.7,478.3 C85.38,478.30 90.03,478.04 92.7,477.6 C95.37,477.16 100.37,476.35 102.7,475 C105.03,473.65 108.20,469.43 110.2,467.5 C112.20,465.57 115.69,462.33 117.7,460.5 C119.71,458.67 123.46,455.13 125.3,453.8 C127.14,452.47 129.90,451.07 131.5,450.5 C133.10,449.93 135.46,449.23 137.3,449.5 C139.14,449.77 142.57,451.43 145.3,452.5 C148.03,453.57 153.79,456.97 157.8,457.5 C161.81,458.03 171.05,456.90 175.4,456.5 C179.75,456.10 186.07,454.63 190.4,454.5 C194.73,454.37 204.23,455.17 207.9,455.5 C211.57,455.83 215.22,456.13 217.9,457 C220.58,457.87 225.00,460.21 228,462 C231.00,463.79 237.17,468.20 240.4,470.4 C243.63,472.60 249.76,477.35 252.2,478.5 C254.64,479.65 256.79,479.52 258.7,479 C260.61,478.48 263.71,476.48 266.5,474.6 C269.29,472.72 276.99,466.30 279.6,464.9 C282.21,463.50 283.31,463.09 286.1,464.1 C288.89,465.11 296.85,471.27 300.5,472.5 C304.15,473.73 309.85,472.95 313.5,473.3 C317.15,473.65 323.73,475.10 327.9,475.1 C332.07,475.10 339.76,473.09 344.8,473.3 C349.84,473.51 360.82,475.73 365.7,476.7 C370.58,477.67 377.57,480.01 381.4,480.6 C385.23,481.19 390.92,481.45 394.4,481.1 C397.88,480.75 404.71,478.41 407.5,478 C410.29,477.59 412.87,477.59 415.3,478 C417.73,478.41 423.45,480.62 425.7,481.1 C427.95,481.58 430.45,481.95 432.2,481.6 C433.95,481.25 436.19,480.13 438.8,478.5 C441.41,476.87 448.32,472.01 451.8,469.4 C455.28,466.79 462.47,460.89 464.9,458.9 C467.33,456.91 468.45,456.03 470,454.5 C471.55,452.97 474.77,449.11 476.5,447.4 C478.23,445.69 481.08,442.81 483,441.7 C484.92,440.59 487.77,439.83 490.9,439.1 C494.03,438.37 502.33,437.17 506.5,436.2 C510.67,435.23 517.67,432.73 522.2,431.8 C526.73,430.87 535.98,430.00 540.5,429.2 C545.02,428.40 551.93,426.64 556.1,425.8 C560.27,424.96 568.67,423.25 571.8,422.9 C574.93,422.55 577.69,422.89 579.6,423.2 C581.51,423.51 584.35,424.16 586.1,425.2 C587.85,426.24 590.09,430.47 592.7,431 C595.31,431.53 602.58,429.52 605.7,429.2 C608.82,428.88 614.01,428.53 616.1,428.6 C618.19,428.67 620.00,429.21 621.4,429.7 C622.80,430.19 624.52,433.07 626.6,432.3 C628.68,431.53 633.52,426.75 637,423.9 C640.48,421.05 648.87,414.21 652.7,410.9 C656.53,407.59 662.22,401.78 665.7,399.1 C669.18,396.42 674.97,393.05 678.8,390.8 C682.63,388.55 690.75,384.32 694.4,382.2 C698.05,380.08 703.59,376.05 706.2,374.9 C708.81,373.75 712.16,373.57 714,373.6 C715.84,373.63 718.55,374.66 720,375.1 C721.45,375.54 722.74,375.98 724.9,376.9 C727.06,377.82 733.20,380.88 736.2,382 C739.20,383.12 744.85,384.63 747.4,385.3 C749.95,385.97 753.05,385.80 755.3,387 C757.55,388.20 760.85,392.19 764.3,394.3 C767.75,396.41 776.88,400.61 781.2,402.8 C785.52,404.99 792.94,408.34 796.7,410.7 C800.46,413.06 805.84,417.87 809.4,420.5 C812.96,423.13 820.40,427.77 823.4,430.4 C826.40,433.03 829.27,437.84 831.9,440.2 C834.53,442.56 839.73,446.70 843.1,448.1 C846.47,449.50 853.81,449.50 857.2,450.7 C860.59,451.90 864.93,455.79 868.5,457.1 C872.07,458.41 880.25,458.99 884,460.5 C887.75,462.01 892.85,466.11 896.6,468.4 C900.35,470.69 909.09,476.39 912.1,477.7 C915.11,479.01 917.51,478.24 919.2,478.2 C920.89,478.16 922.93,476.83 924.8,477.4 C926.67,477.97 930.20,480.89 933.2,482.5 C936.20,484.11 943.99,488.01 947.3,489.5 C950.61,490.99 956.04,492.97 958,493.7 C959.96,494.43 961.47,494.83 962,495" fill="none" stroke="#c8575d" stroke-width="1.85" stroke-linejoin="round"/>
<ellipse cx="656.7" cy="411.8" rx="14.9" ry="16.5" fill="none" stroke="#f5821f" stroke-width="2.8"/>
<text x="614.3" y="383.2" font-size="18.5" fill="#0a0a0a">ADX&gt;30</text>
<text x="932.8" y="448.8" font-size="18.5" fill="#c9c9c9">30</text>
<!-- right border -->
<rect x="956.9" y="0" width="1.1" height="501" fill="#454545"/>
</svg>
</body></html>
